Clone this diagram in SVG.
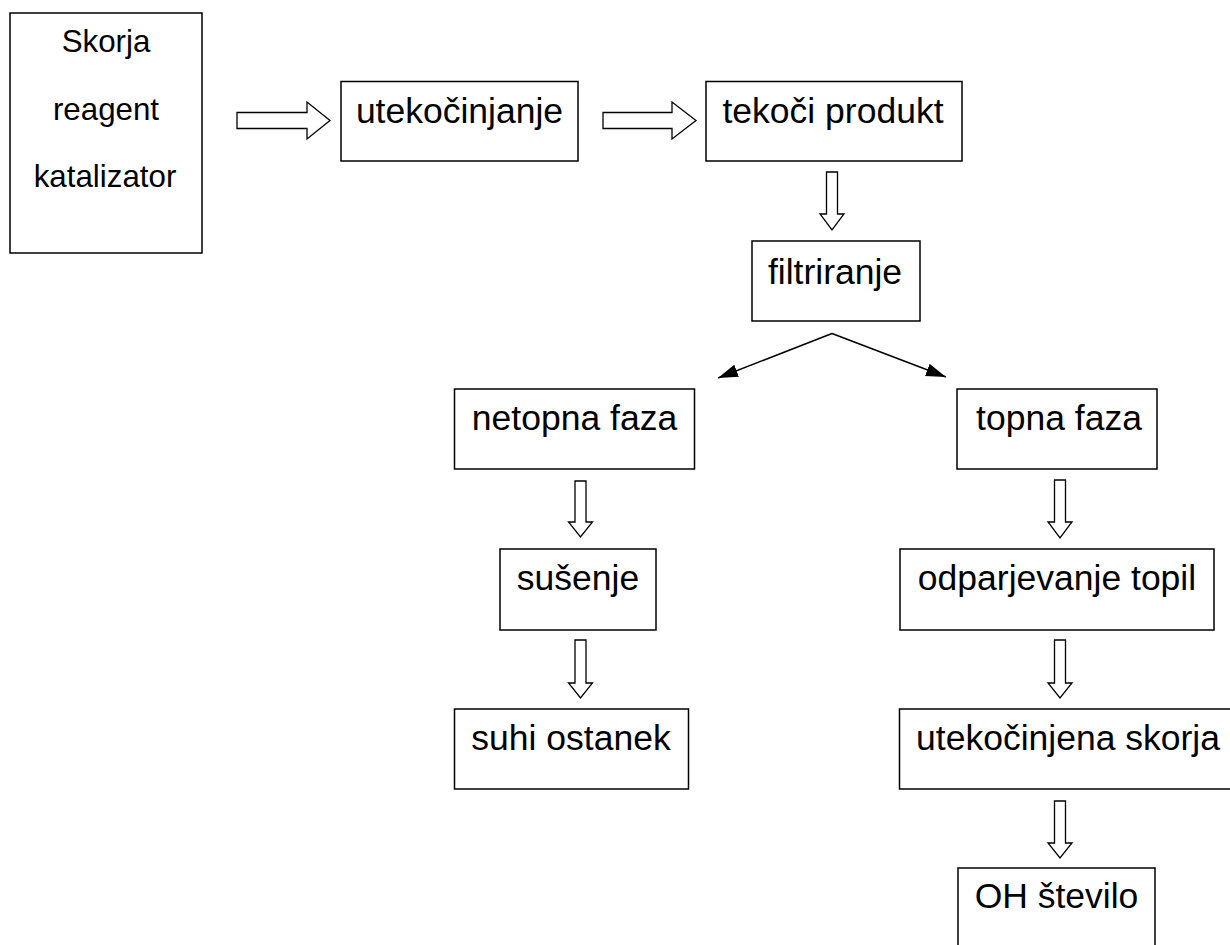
<svg xmlns="http://www.w3.org/2000/svg" width="1230" height="945" viewBox="0 0 1230 945">
  <defs>
    <style>
      .box { fill: #ffffff; stroke: #000000; stroke-width: 1.5; }
      .lbl { font-family: "Liberation Sans", Arial, sans-serif; font-size: 35.5px; fill: #000000; text-anchor: middle; }
      .lbl-s { font-family: "Liberation Sans", Arial, sans-serif; font-size: 31.3px; fill: #000000; text-anchor: middle; }
      .block { fill: #ffffff; stroke: #000000; stroke-width: 1.3; stroke-linejoin: miter; }
      .line { fill: none; stroke: #000000; stroke-width: 1.5; }
    </style>
    <marker id="tri" markerUnits="userSpaceOnUse" markerWidth="21" markerHeight="14" refX="20" refY="6.5" orient="auto">
      <path d="M0,0 L20,6.5 L0,13 Z" fill="#000000"/>
    </marker>
  </defs>
  <rect width="1230" height="945" fill="#ffffff"/>

  <g id="connectors">
    <path class="block" d="M237,112.5 H307 V102 L330,120.5 L307,139 V128.5 H237 Z"/>
    <path class="block" d="M603,112.5 H672 V102 L696,120.5 L672,139 V128.5 H603 Z"/>
    <path class="block" d="M826.5,172 H837.5 V214 H844 L832,230 L820,214 H826.5 Z"/>
    <line class="line" x1="832" y1="333.5" x2="718" y2="378" marker-end="url(#tri)"/>
    <line class="line" x1="832" y1="333.5" x2="946" y2="377" marker-end="url(#tri)"/>
    <path class="block" d="M575,481 H586 V522 H592.5 L580.5,537 L568.5,522 H575 Z"/>
    <path class="block" d="M575,640 H586 V683 H592.5 L580.5,698 L568.5,683 H575 Z"/>
    <path class="block" d="M1054.5,480 H1065.5 V522 H1072 L1060,538 L1048,522 H1054.5 Z"/>
    <path class="block" d="M1054.5,640 H1065.5 V683 H1072 L1060,698 L1048,683 H1054.5 Z"/>
    <path class="block" d="M1054.5,801 H1065.5 V843 H1072 L1060,858 L1048,843 H1054.5 Z"/>
  </g>

  <g id="node-input">
    <rect class="box" x="10" y="13" width="192" height="240"/>
    <text class="lbl-s" x="106" y="52">Skorja</text>
    <text class="lbl-s" x="106" y="120">reagent</text>
    <text class="lbl-s" x="105" y="187">katalizator</text>
  </g>
  <g id="node-utekocinjanje">
    <rect class="box" x="341" y="81.5" width="237" height="79.5"/>
    <text class="lbl" x="459.5" y="122.5">utekočinjanje</text>
  </g>
  <g id="node-tekoci-produkt">
    <rect class="box" x="706" y="81.5" width="256" height="79.5"/>
    <text class="lbl" x="833" y="122.5">tekoči produkt</text>
  </g>
  <g id="node-filtriranje">
    <rect class="box" x="752" y="241" width="168" height="80"/>
    <text class="lbl" x="835" y="284">filtriranje</text>
  </g>
  <g id="node-netopna-faza">
    <rect class="box" x="454.5" y="389" width="240" height="80"/>
    <text class="lbl" x="574.5" y="430">netopna faza</text>
  </g>
  <g id="node-topna-faza">
    <rect class="box" x="957" y="389" width="200" height="80"/>
    <text class="lbl" x="1059" y="430">topna faza</text>
  </g>
  <g id="node-susenje">
    <rect class="box" x="500" y="549" width="156" height="81"/>
    <text class="lbl" x="578" y="590">sušenje</text>
  </g>
  <g id="node-odparjevanje">
    <rect class="box" x="900" y="549" width="314" height="81"/>
    <text class="lbl" x="1057" y="590">odparjevanje topil</text>
  </g>
  <g id="node-suhi-ostanek">
    <rect class="box" x="454.5" y="709" width="234" height="80"/>
    <text class="lbl" x="571" y="750">suhi ostanek</text>
  </g>
  <g id="node-utekocinjena-skorja">
    <rect class="box" x="899.5" y="709" width="338" height="80"/>
    <text class="lbl" x="1068" y="750">utekočinjena skorja</text>
  </g>
  <g id="node-oh-stevilo">
    <rect class="box" x="958" y="868" width="197" height="82"/>
    <text class="lbl" x="1056.5" y="907.5">OH število</text>
  </g>
</svg>
